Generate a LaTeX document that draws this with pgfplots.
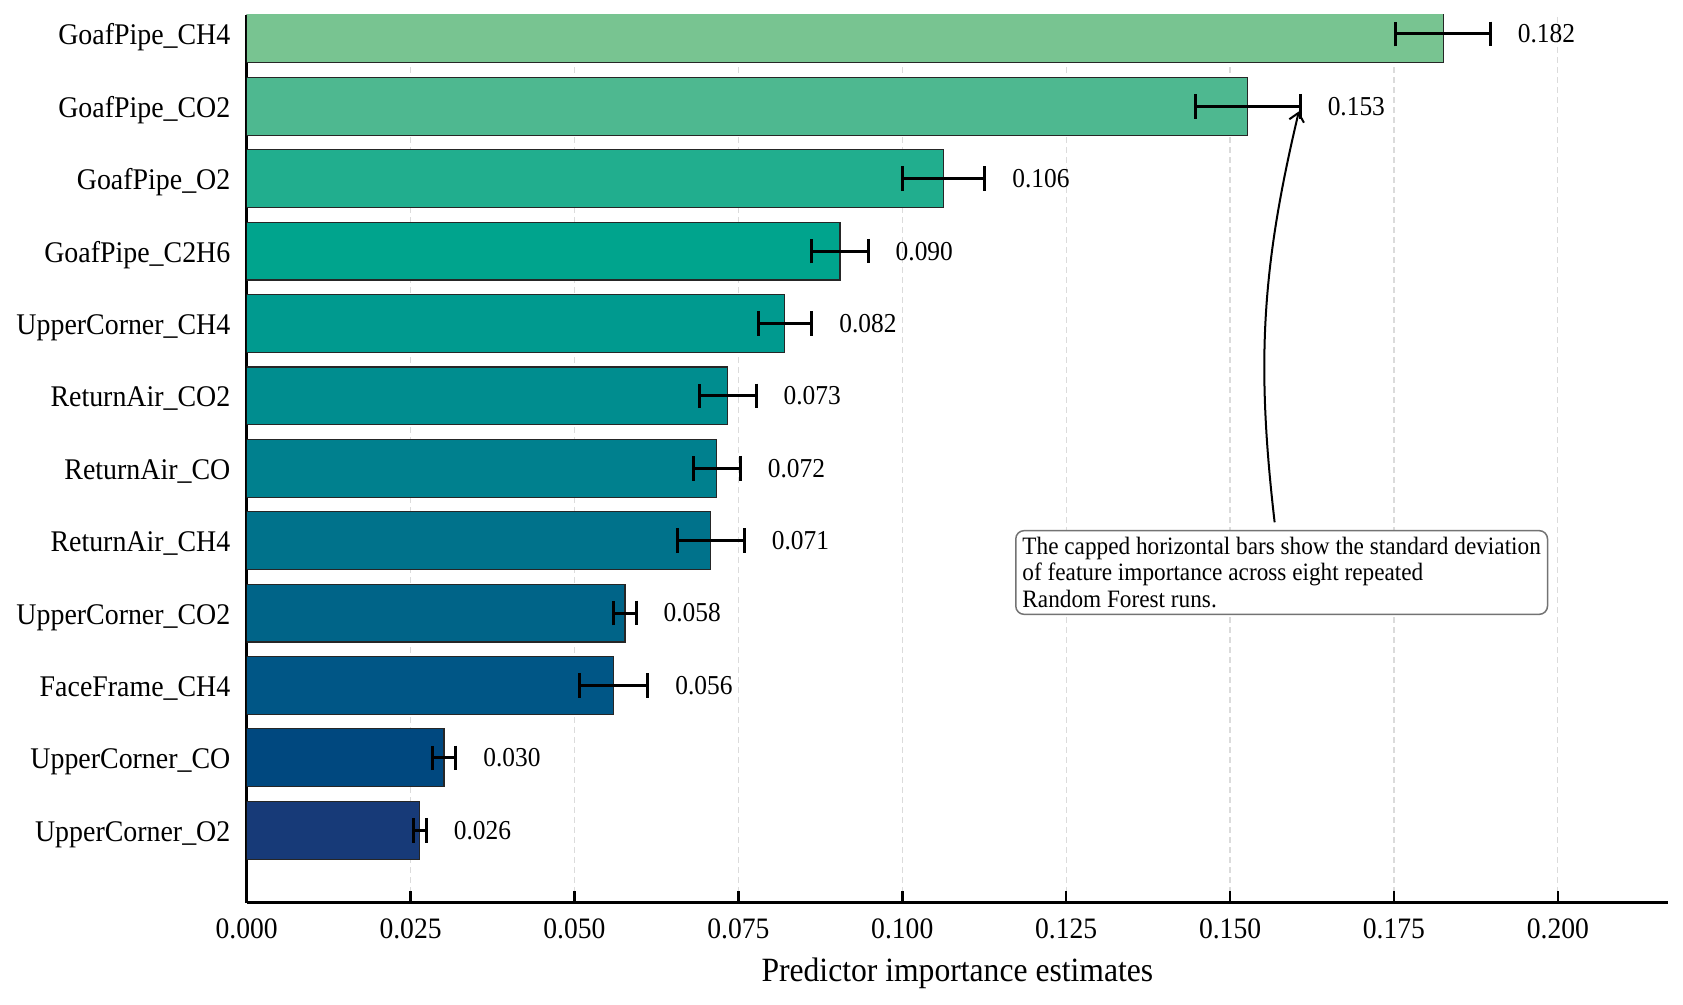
\documentclass[border=0pt]{standalone}
\usepackage{fontspec}
\setmainfont{Liberation Serif}[FakeStretch=0.93]
\usepackage{pgfplots}
\usepackage{pgfplotstable}
\pgfplotsset{compat=1.18}
\usetikzlibrary{calc,arrows.meta}

\definecolor{c11}{HTML}{78C491}
\definecolor{c10}{HTML}{4EB890}
\definecolor{c9}{HTML}{21AE8E}
\definecolor{c8}{HTML}{00A48D}
\definecolor{c7}{HTML}{009A8F}
\definecolor{c6}{HTML}{008D8F}
\definecolor{c5}{HTML}{00808E}
\definecolor{c4}{HTML}{00728B}
\definecolor{c3}{HTML}{006488}
\definecolor{c2}{HTML}{005686}
\definecolor{c1}{HTML}{00487F}
\definecolor{c0}{HTML}{173A78}

\pgfplotstableread{
y m sd lbl
0 0.0264 0.0010 0.026
1 0.0301 0.0018 0.030
2 0.0560 0.0052 0.056
3 0.0577 0.0017 0.058
4 0.0708 0.0051 0.071
5 0.0717 0.0036 0.072
6 0.0734 0.0043 0.073
7 0.0821 0.0041 0.082
8 0.0905 0.0043 0.090
9 0.1063 0.0063 0.106
10 0.1527 0.0080 0.153
11 0.1825 0.0072 0.182
}\datatable

\pgfplotsset{
  hb/.style={xbar, bar shift=0pt, bar width=0.8, draw=black!85, line width=0.35pt, fill=#1},
}

\begin{document}
\begin{tikzpicture}
\begin{axis}[
  name=ax,
  scale only axis,
  width=426.4pt, height=266.3pt,
  xmin=0, xmax=0.2168, ymin=-1, ymax=11.262,
  axis x line*=bottom, axis y line*=left,
  axis line style={-, line width=0.8pt, black},
  xtick={0,0.025,0.05,0.075,0.1,0.125,0.15,0.175,0.2},
  scaled x ticks=false,
  ytick={0,1,2,3,4,5,6,7,8,9,10,11},
  yticklabels={UpperCorner\_O2,UpperCorner\_CO,FaceFrame\_CH4,UpperCorner\_CO2,ReturnAir\_CH4,ReturnAir\_CO,ReturnAir\_CO2,UpperCorner\_CH4,GoafPipe\_C2H6,GoafPipe\_O2,GoafPipe\_CO2,GoafPipe\_CH4},
  tick style={line width=0.8pt, black},
  major tick length=3.6pt,
  tick align=inside,
  xmajorgrids=true,
  major x grid style={dash pattern=on 1.8pt off 1.2pt, black!14, line width=0.35pt},
  xticklabel style={inner sep=0pt, anchor=north, yshift=-4.5pt,
    font=\fontsize{8.9}{10}\selectfont,
    /pgf/number format/fixed, /pgf/number format/fixed zerofill,
    /pgf/number format/precision=3, /pgf/number format/assume math mode=true},
  yticklabel style={inner sep=0pt, anchor=base east, xshift=-4.7pt, yshift=-3.3pt,
    font=\fontsize{9.0}{10}\selectfont},
  xlabel={Predictor importance estimates},
  xlabel style={at={(axis description cs:0.5,0)}, anchor=base, yshift=-23.8pt,
    font=\fontsize{10.2}{11}\selectfont},
  clip=true,
]
\addplot[hb=c0]  coordinates {(0.0264,0)};
\addplot[hb=c1]  coordinates {(0.0301,1)};
\addplot[hb=c2]  coordinates {(0.0560,2)};
\addplot[hb=c3]  coordinates {(0.0577,3)};
\addplot[hb=c4]  coordinates {(0.0708,4)};
\addplot[hb=c5]  coordinates {(0.0717,5)};
\addplot[hb=c6]  coordinates {(0.0734,6)};
\addplot[hb=c7]  coordinates {(0.0821,7)};
\addplot[hb=c8]  coordinates {(0.0905,8)};
\addplot[hb=c9]  coordinates {(0.1063,9)};
\addplot[hb=c10] coordinates {(0.1527,10)};
\addplot[hb=c11] coordinates {(0.1825,11)};

\addplot[draw=none, mark=none,
  error bars/.cd, x dir=both, x explicit,
  error mark=|,
  error bar style={draw=black, line width=0.9pt},
  error mark options={draw=black, line width=0.9pt, mark size=3.7pt}]
  table[x=m, y=y, x error=sd] {\datatable};

\addplot[only marks, mark=none, nodes near coords, point meta=explicit symbolic,
  nodes near coords style={anchor=west, inner sep=0pt, black, font=\fontsize{8.2}{9}\selectfont}]
  table[x expr=\thisrow{m}+\thisrow{sd}+0.0041, y=y, meta=lbl] {\datatable};

\node[draw=black!55, rounded corners=2.5pt, fill=white, line width=0.45pt,
  inner sep=2pt, anchor=north west, align=left,
  font=\fontsize{7.5}{7.9}\selectfont] at (axis cs:0.1172,4.149)
  {The capped horizontal bars show the standard deviation\\of feature importance across eight repeated\\Random Forest runs.};
\draw[-{Straight Barb[length=2.5pt,width=4.5pt]}, line width=0.6pt]
  (axis cs:0.1568,4.254) to[bend left=10] (axis cs:0.1605,9.93);
\end{axis}
\pgfresetboundingbox
\path[use as bounding box] ($(ax.south west)+(-74.0pt,-30.7pt)$) rectangle ($(ax.north east)+(4.5pt,4.5pt)$);
\end{tikzpicture}
\end{document}
